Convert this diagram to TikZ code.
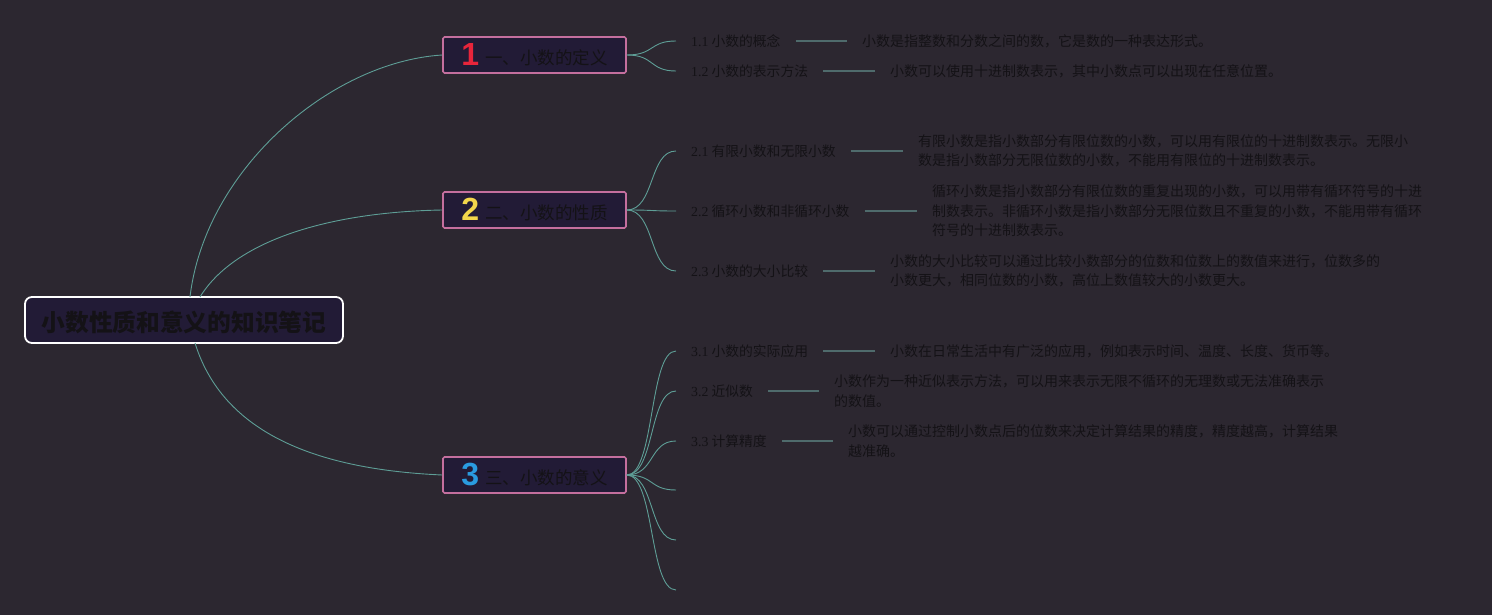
\documentclass[tikz,border=0pt]{standalone}
\usepackage{fontspec}
\setmainfont{Noto Sans CJK SC}
\newfontfamily\numfont{Liberation Sans}
\newfontfamily\latinfont{Liberation Serif}
\definecolor{bgc}{HTML}{2C2730}
\definecolor{nodefill}{HTML}{221B36}
\definecolor{pinkb}{HTML}{C46F9E}
\definecolor{tealc}{HTML}{5E9E96}
\definecolor{grayl}{HTML}{4F6B6C}
\definecolor{txt}{HTML}{141216}
\definecolor{num1}{HTML}{E8253B}
\definecolor{num2}{HTML}{F2D64B}
\definecolor{num3}{HTML}{2A9BE0}
\tikzset{
  rootbox/.style={draw=white, line width=1.8pt, fill=nodefill, rounded corners=7pt, minimum width=318pt, minimum height=46pt, text=txt, font=\fontsize{23.7}{28}\selectfont\bfseries},
  mainbox/.style={draw=pinkb, line width=1.6pt, fill=nodefill, rounded corners=1.5pt, minimum width=183pt, minimum height=36pt, text=txt, font=\fontsize{17.5}{21}\selectfont, inner sep=0pt},
  sublabel/.style={anchor=west, inner sep=0pt, text=txt, font=\fontsize{13.8}{16}\selectfont},
  desc/.style={anchor=west, inner sep=0pt, text=txt, align=left, font=\fontsize{14}{19.5}\selectfont},
  branch/.style={draw=tealc, line width=0.9pt},
  descline/.style={draw=grayl, line width=1.4pt},
}
\newcommand{\bignum}[2]{\raisebox{-1.5pt}{\smash{\numfont\fontsize{32}{32}\selectfont\bfseries\textcolor{#1}{#2}}}}
\newcommand{\shiftdown}[2]{\vphantom{#2}\raisebox{-#1}{\smash{#2}}}
\newcommand{\maintext}[3]{\shiftdown{3.5pt}{\bignum{#1}{#2}\hspace{6pt}#3}}
\newcommand{\sublab}[2]{{\latinfont #1} #2}
\begin{document}
\begin{tikzpicture}[x=1pt,y=-1pt]
\useasboundingbox (0,0) rectangle (1492,615);
\fill[bgc] (0,0) rectangle (1492,615);

% root
\node[rootbox] (root) at (184,320) {\shiftdown{2pt}{小数性质和意义的知识笔记}};

% main nodes
\node[mainbox] (m1) at (534.5,55) {\maintext{num1}{1}{一、小数的定义}};
\node[mainbox] (m2) at (534.5,210) {\maintext{num2}{2}{二、小数的性质}};
\node[mainbox] (m3) at (534.5,475) {\maintext{num3}{3}{三、小数的意义}};

\coordinate (r1) at (190,297);
\coordinate (r2) at (200,297);
\coordinate (r3) at (195,343);
\draw[branch] (r1) .. controls (205,170) and (330,62) .. (m1.west);
\draw[branch] (r2) .. controls (235,240) and (330,212) .. (m2.west);
\draw[branch] (r3) .. controls (225,440) and (330,470) .. (m3.west);

% sub labels
\node[sublabel] (l11) at (691,41) {\sublab{1.1}{小数的概念}};
\node[sublabel] (l12) at (691,71) {\sublab{1.2}{小数的表示方法}};
\node[sublabel] (l21) at (691,151) {\sublab{2.1}{有限小数和无限小数}};
\node[sublabel] (l22) at (691,211) {\sublab{2.2}{循环小数和非循环小数}};
\node[sublabel] (l23) at (691,271) {\sublab{2.3}{小数的大小比较}};
\node[sublabel] (l31) at (691,351) {\sublab{3.1}{小数的实际应用}};
\node[sublabel] (l32) at (691,391) {\sublab{3.2}{近似数}};
\node[sublabel] (l33) at (691,441) {\sublab{3.3}{计算精度}};
\coordinate (e1) at (676,490);
\coordinate (e2) at (676,540);
\coordinate (e3) at (676,590);

% descriptions
\node[desc] (d11) at (862,41) {小数是指整数和分数之间的数，它是数的一种表达形式。};
\node[desc] (d12) at (890,71) {小数可以使用十进制数表示，其中小数点可以出现在任意位置。};
\node[desc] (d21) at (918,151) {有限小数是指小数部分有限位数的小数，可以用有限位的十进制数表示。无限小\\数是指小数部分无限位数的小数，不能用有限位的十进制数表示。};
\node[desc] (d22) at (932,211) {循环小数是指小数部分有限位数的重复出现的小数，可以用带有循环符号的十进\\制数表示。非循环小数是指小数部分无限位数且不重复的小数，不能用带有循环\\符号的十进制数表示。};
\node[desc] (d23) at (890,271) {小数的大小比较可以通过比较小数部分的位数和位数上的数值来进行，位数多的\\小数更大，相同位数的小数，高位上数值较大的小数更大。};
\node[desc] (d31) at (890,351) {小数在日常生活中有广泛的应用，例如表示时间、温度、长度、货币等。};
\node[desc] (d32) at (834,391) {小数作为一种近似表示方法，可以用来表示无限不循环的无理数或无法准确表示\\的数值。};
\node[desc] (d33) at (848,441) {小数可以通过控制小数点后的位数来决定计算结果的精度，精度越高，计算结果\\越准确。};

% branch curves
\foreach \m/\l in {m1/l11,m1/l12,m2/l21,m2/l22,m2/l23,m3/l31,m3/l32,m3/l33}{
  \draw[branch] (\m.east) .. controls ([xshift=28pt]\m.east) and ([xshift=-42pt]\l.west) .. ([xshift=-15pt]\l.west);
}
\foreach \e in {e1,e2,e3}{
  \draw[branch] (m3.east) .. controls ([xshift=28pt]m3.east) and ([xshift=-27pt]\e) .. (\e);
}
% desc lines
\foreach \l/\d in {l11/d11,l12/d12,l21/d21,l22/d22,l23/d23,l31/d31,l32/d32,l33/d33}{
  \draw[descline] ([xshift=15pt]\l.east) -- ([xshift=-15pt]\d.west);
}
\end{tikzpicture}
\end{document}
